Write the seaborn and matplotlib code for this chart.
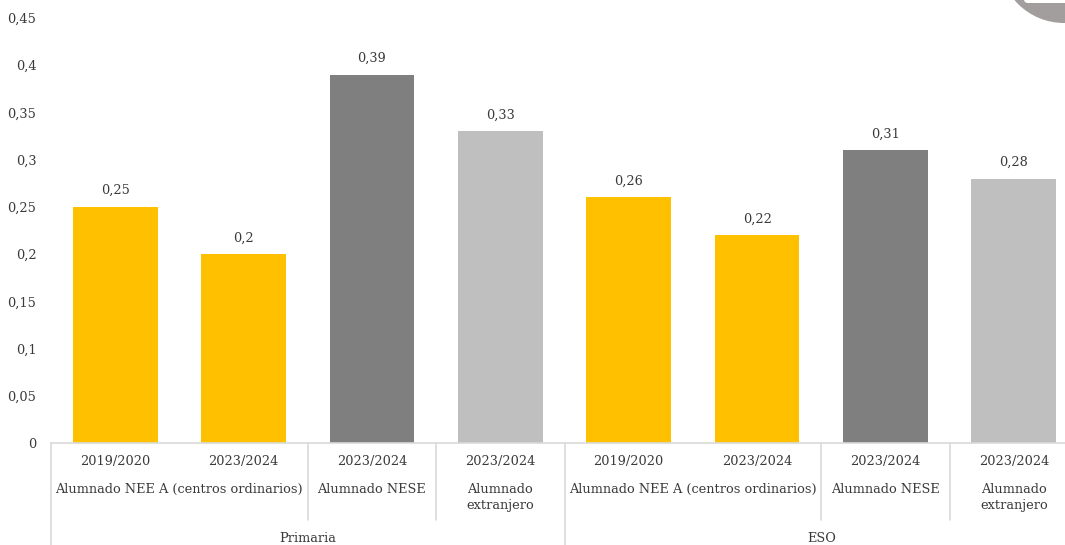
import matplotlib
matplotlib.use("Agg")
import matplotlib.pyplot as plt
from matplotlib.transforms import blended_transform_factory
from matplotlib.lines import Line2D
from matplotlib.patches import Circle, FancyBboxPatch
import seaborn as sns
import pandas as pd

# Ratios by stage, group and school year
stages = ["Primaria", "ESO"]
groups = ["Alumnado NEE A (centros ordinarios)", "Alumnado NESE", "Alumnado\nextranjero"]
years = ["2019/2020", "2023/2024", "2023/2024", "2023/2024",
         "2019/2020", "2023/2024", "2023/2024", "2023/2024"]
values = [0.25, 0.20, 0.39, 0.33, 0.26, 0.22, 0.31, 0.28]
bar_colors = ["#FFC000", "#FFC000", "#7F7F7F", "#BFBFBF",
              "#FFC000", "#FFC000", "#7F7F7F", "#BFBFBF"]
y_ticks = [0, 0.05, 0.1, 0.15, 0.2, 0.25, 0.3, 0.35, 0.4, 0.45]

TEXT = "#3A3A3A"
LINE = "#D9D9D9"
FONT = ["DejaVu Serif"]
FS = 9.3

sns.set_theme(style="white")
plt.rcParams["font.family"] = FONT

W, H = 1065, 545
fig = plt.figure(figsize=(W / 100, H / 100), dpi=100)
ax = fig.add_axes([51 / W, (H - 443) / H, 1027 / W, 425 / H])

keys = [f"b{i}" for i in range(len(values))]
df = pd.DataFrame({"key": keys, "value": values})
sns.barplot(data=df, x="key", y="value", hue="key", palette=bar_colors,
            order=keys, hue_order=keys, legend=False, width=0.66,
            saturation=1, linewidth=0, ax=ax)

ax.set_xlim(-0.5, len(values) - 0.5)
ax.set_ylim(0, 0.45)
ax.set_yticks(y_ticks)
ax.set_yticklabels([("%g" % v).replace(".", ",") for v in y_ticks],
                   color=TEXT, fontsize=FS)
ax.tick_params(axis="y", length=0, pad=10.5)
ax.tick_params(axis="x", length=0)
ax.set_xticks([])
ax.set_xlabel("")
ax.set_ylabel("")
for s in ["left", "right", "top"]:
    ax.spines[s].set_visible(False)
ax.spines["bottom"].set_color(LINE)
ax.spines["bottom"].set_linewidth(1.2)

# value labels
for i, v in enumerate(values):
    ax.annotate(("%g" % v).replace(".", ","), (i, v), xytext=(0, 7),
                textcoords="offset points", ha="center", va="bottom",
                fontsize=FS, color=TEXT)

# multi-level category axis
tr = blended_transform_factory(ax.transData, fig.transFigure)
def fy(px):
    return 1 - px / H

for i, yr in enumerate(years):
    ax.text(i, fy(462), yr, transform=tr, ha="center", va="center",
            fontsize=FS, color=TEXT, clip_on=False)

group_spans = [(0, 1), (2, 2), (3, 3)]
for s, stage in enumerate(stages):
    base = s * 4
    for g, (a, b) in enumerate(group_spans):
        ax.text(base + (a + b) / 2, fy(483), groups[g], transform=tr,
                ha="center", va="top", fontsize=FS, color=TEXT,
                linespacing=1.35, clip_on=False)
    ax.text(base + 1.5, fy(538), stage, transform=tr, ha="center",
            va="center", fontsize=FS, color=TEXT, clip_on=False)

for x in [-0.5, 3.5, 7.5]:
    fig.add_artist(Line2D([x, x], [fy(443), fy(545)], transform=tr,
                          color=LINE, lw=1.2))
for x in [1.5, 2.5, 5.5, 6.5]:
    fig.add_artist(Line2D([x, x], [fy(443), fy(520)], transform=tr,
                          color=LINE, lw=1.2))

# corner badge
fig.add_artist(Circle((1064, H + 42), 65, transform=None,
                      facecolor="#A29E9E", edgecolor="none"))
fig.add_artist(FancyBboxPatch((1024, H - 3), 60, 20, transform=None,
                              boxstyle="round,pad=0,rounding_size=4",
                              facecolor="white", edgecolor="none"))

fig.savefig("out.png", dpi=100)
